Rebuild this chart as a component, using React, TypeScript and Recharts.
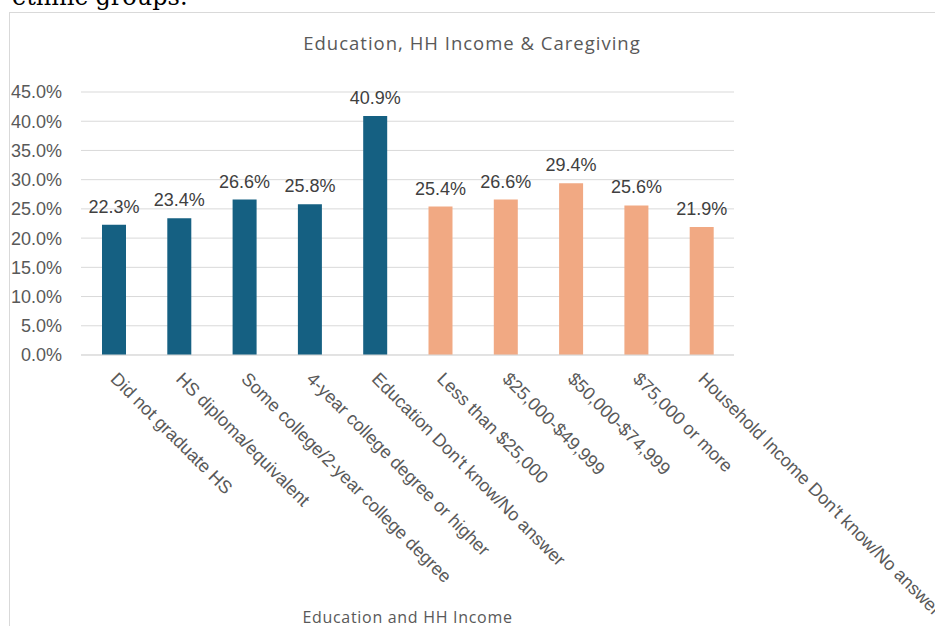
import React from "react";
import { BarChart, Bar, XAxis, YAxis, CartesianGrid, Cell, LabelList } from "recharts";

const categories = [
  "Did not graduate HS",
  "HS diploma/equivalent",
  "Some college/2-year college degree",
  "4-year college degree or higher",
  "Education Don't know/No answer",
  "Less than $25,000",
  "$25,000-$49,999",
  "$50,000-$74,999",
  "$75,000 or more",
  "Household Income Don't know/No answer",
];

const caregivingPct = [22.3, 23.4, 26.6, 25.8, 40.9, 25.4, 26.6, 29.4, 25.6, 21.9];

const groups = ["edu", "edu", "edu", "edu", "edu", "inc", "inc", "inc", "inc", "inc"];

const yTicks = [0, 5, 10, 15, 20, 25, 30, 35, 40, 45];

const GROUP_COLORS: Record<string, string> = {
  edu: "#156082",
  inc: "#F1A983",
};

const FONT = "'Liberation Sans', Arial, sans-serif";

const data = categories.map((name, i) => ({
  name,
  value: caregivingPct[i],
  group: groups[i],
}));

export default function App() {
  return (
    <div style={{ position: "absolute", left: 0, top: 0, width: 935, height: 626, overflow: "hidden", background: "#fff" }}>
      <div
        style={{
          position: "absolute",
          left: 12,
          top: -17,
          fontFamily: "'DejaVu Serif', serif",
          fontSize: 24,
          color: "#000",
          whiteSpace: "nowrap",
        }}
      >
        ethnic groups.
      </div>
      <div
        style={{
          position: "absolute",
          left: 9,
          top: 12,
          width: 940,
          height: 640,
          border: "1px solid #d9d9d9",
          boxSizing: "border-box",
        }}
      />
      <div
        style={{
          position: "absolute",
          left: 0,
          width: 944,
          top: 30,
          textAlign: "center",
          fontFamily: "'Open Sans', sans-serif",
          fontSize: 18.5,
          letterSpacing: 1,
          color: "#595959",
        }}
      >
        Education, HH Income &amp; Caregiving
      </div>
      <div style={{ position: "absolute", left: 10, top: 12 }}>
        <BarChart
          width={925}
          height={614}
          data={data}
          margin={{ top: 80, right: 201, left: 0, bottom: 0 }}
          style={{ overflow: "visible" }}
        >
          <CartesianGrid vertical={false} stroke="#d9d9d9" strokeWidth={1} />
          <XAxis
            dataKey="name"
            interval={0}
            height={271}
            axisLine={{ stroke: "#d9d9d9" }}
            tickLine={false}
            tickSize={6}
            tickMargin={14}
            tick={{
              angle: 45,
              textAnchor: "start",
              dx: 5,
              dy: -4,
              fontSize: 18,
              fill: "#595959",
              fontFamily: FONT,
            }}
          />
          <YAxis
            domain={[0, 45]}
            ticks={yTicks}
            width={71}
            axisLine={false}
            tickLine={false}
            tickSize={6}
            tickMargin={13}
            tickFormatter={(v: number) => `${v.toFixed(1)}%`}
            tick={{ fontSize: 18, fill: "#595959", fontFamily: FONT }}
          />
          <Bar dataKey="value" barSize={24} isAnimationActive={false}>
            {data.map((d, i) => (
              <Cell key={i} fill={GROUP_COLORS[d.group]} />
            ))}
            <LabelList
              dataKey="value"
              position="top"
              offset={12}
              formatter={(v: number) => `${v.toFixed(1)}%`}
              style={{ fontSize: 18, fill: "#404040", fontFamily: FONT }}
            />
          </Bar>
        </BarChart>
      </div>
      <div
        style={{
          position: "absolute",
          left: 81,
          width: 653,
          top: 609,
          lineHeight: 1,
          textAlign: "center",
          fontFamily: "'Open Sans', sans-serif",
          fontSize: 16,
          letterSpacing: 0.7,
          color: "#595959",
        }}
      >
        Education and HH Income
      </div>
    </div>
  );
}
